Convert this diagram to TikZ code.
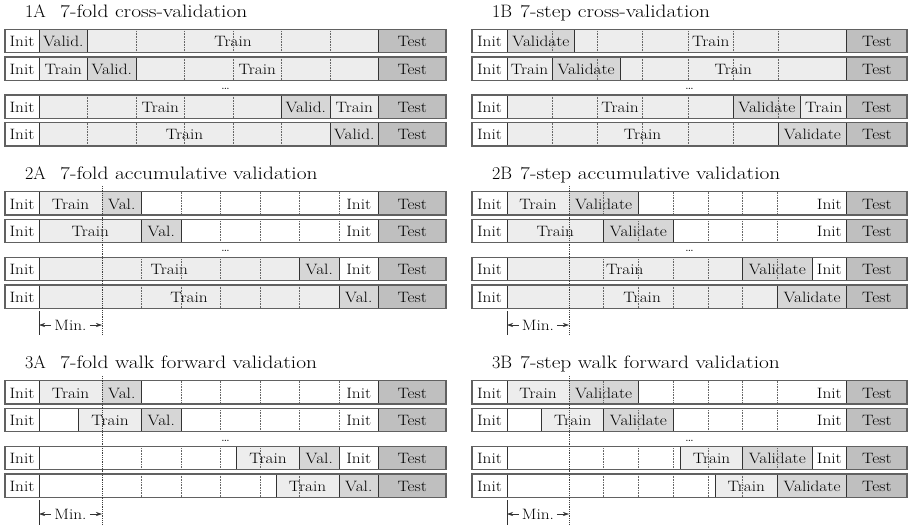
\documentclass[tikz,border=0pt]{standalone}
\usepackage{graphicx}
\usetikzlibrary{arrows.meta}
\newcounter{cellno}
\newcommand\cellfont{\fontsize{15}{18}\selectfont}
\newcommand\titlefont{\fontsize{18}{22}\selectfont}
\newcommand\wide[1]{\scalebox{1.15}[1]{#1}}
\newcommand\widetitle[1]{\scalebox{1.19}[1]{#1}}
\tikzset{
  rowframe/.style={draw=black!62, line width=1.3pt},
  cellsep/.style={draw=black!80, line width=0.7pt},
  initcell/.style={fill=white},
  blankcell/.style={fill=white},
  traincell/.style={fill=black!7},
  valcell/.style={fill=black!16},
  testcell/.style={fill=black!25},
  stepline/.style={draw=black!60, densely dotted, line width=0.6pt},
  minline/.style={draw=black!75, densely dotted, line width=0.8pt},
  celltext/.style={font=\cellfont, inner sep=0pt, anchor=base},
  titletext/.style={font=\titlefont, inner sep=0pt, anchor=base west},
  minarrow/.style={draw=black!80, line width=0.6pt, shorten <=3pt,
    -{Stealth[length=6pt,width=4pt]}},
}
% one coloured cell with its label, #1 style, #2..#3 x range, #4 row top, #5 label
\newcommand\seg[5]{%
  \stepcounter{cellno}%
  \fill[#1] (#2,#4) rectangle (#3,#4+23.4);
  \node[celltext] (cell-\arabic{cellno}) at ({(#2+#3)/2},#4+17.3) {\wide{#5}};}
\newcommand\steps[2]{\foreach \sx in {#1} {\draw[stepline] (\sx,#2) -- (\sx,#2+23.4);}}
\newcommand\seps[2]{\foreach \sx in {#1} {\draw[cellsep] (\sx,#2) -- (\sx,#2+23.4);}}
\newcommand\frm[3]{\draw[rowframe] (#1,#3) rectangle (#2,#3+23.4);}
% panel heading: #1 name, #2 x of label, #3 x of text, #4 baseline, #5 label, #6 text
\newcommand\heading[6]{%
  \node[titletext] (#1-no) at (#2,#4) {#5};
  \node[titletext] (#1-name) at (#3,#4) {\widetitle{#6}};}
\begin{document}
\begin{tikzpicture}[x=1pt,y=-1pt]
\useasboundingbox[fill=white] (0,0) rectangle (913,528);

% ---------------- 1A ----------------
\heading{t1a}{25}{60}{17.5}{1A}{7-fold cross-validation}
\def\y{29.3}
\seg{initcell}{5}{39}{\y}{Init}\seg{valcell}{39}{87.5}{\y}{Valid.}
\seg{traincell}{87.5}{378.5}{\y}{Train}\seg{testcell}{378.5}{446}{\y}{Test}
\steps{136,184.5,233,281.5,330}{\y}\seps{39,87.5,378.5}{\y}\frm{5}{446}{\y}
\def\y{57}
\seg{initcell}{5}{39}{\y}{Init}\seg{traincell}{39}{87.5}{\y}{Train}
\seg{valcell}{87.5}{136}{\y}{Valid.}\seg{traincell}{136}{378.5}{\y}{Train}
\seg{testcell}{378.5}{446}{\y}{Test}
\steps{184.5,233,281.5,330}{\y}\seps{39,87.5,136,378.5}{\y}\frm{5}{446}{\y}
\node[celltext] (d1a) at (225.5,89) {\dots};
\def\y{95}
\seg{initcell}{5}{39}{\y}{Init}\seg{traincell}{39}{281.5}{\y}{Train}
\seg{valcell}{281.5}{330}{\y}{Valid.}\seg{traincell}{330}{378.5}{\y}{Train}
\seg{testcell}{378.5}{446}{\y}{Test}
\steps{87.5,136,184.5,233}{\y}\seps{39,281.5,330,378.5}{\y}\frm{5}{446}{\y}
\def\y{122.6}
\seg{initcell}{5}{39}{\y}{Init}\seg{traincell}{39}{330}{\y}{Train}
\seg{valcell}{330}{378.5}{\y}{Valid.}\seg{testcell}{378.5}{446}{\y}{Test}
\steps{87.5,136,184.5,233,281.5}{\y}\seps{39,330,378.5}{\y}\frm{5}{446}{\y}

% ---------------- 1B ----------------
\heading{t1b}{492}{520}{17.5}{1B}{7-step cross-validation}
\def\y{29.3}
\seg{initcell}{472}{507}{\y}{Init}\seg{valcell}{507}{574.8}{\y}{Validate}
\seg{traincell}{574.8}{846.7}{\y}{Train}\seg{testcell}{846.7}{907}{\y}{Test}
\steps{552.2,597.4,642.6,687.8,733,778.2}{\y}\seps{507,574.8,846.7}{\y}\frm{472}{907}{\y}
\def\y{57}
\seg{initcell}{472}{507}{\y}{Init}\seg{traincell}{507}{552.2}{\y}{Train}
\seg{valcell}{552.2}{620}{\y}{Validate}\seg{traincell}{620}{846.7}{\y}{Train}
\seg{testcell}{846.7}{907}{\y}{Test}
\steps{597.4,642.6,687.8,733,778.2}{\y}\seps{507,552.2,620,846.7}{\y}\frm{472}{907}{\y}
\node[celltext] (d1b) at (689.5,89) {\dots};
\def\y{95}
\seg{initcell}{472}{507}{\y}{Init}\seg{traincell}{507}{733}{\y}{Train}
\seg{valcell}{733}{800.8}{\y}{Validate}\seg{traincell}{800.8}{846.7}{\y}{Train}
\seg{testcell}{846.7}{907}{\y}{Test}
\steps{552.2,597.4,642.6,687.8,778.2}{\y}\seps{507,733,800.8,846.7}{\y}\frm{472}{907}{\y}
\def\y{122.6}
\seg{initcell}{472}{507}{\y}{Init}\seg{traincell}{507}{778.2}{\y}{Train}
\seg{valcell}{778.2}{846.7}{\y}{Validate}\seg{testcell}{846.7}{907}{\y}{Test}
\steps{552.2,597.4,642.6,687.8,733}{\y}\seps{507,778.2,846.7}{\y}\frm{472}{907}{\y}

% ---------------- 2A ----------------
\heading{t2a}{25}{60}{179.5}{2A}{7-fold accumulative validation}
\def\y{191.7}
\seg{initcell}{5}{39}{\y}{Init}\seg{traincell}{39}{102}{\y}{Train}
\seg{valcell}{102}{141.5}{\y}{Val.}\seg{blankcell}{141.5}{339}{\y}{}
\seg{initcell}{339}{378.5}{\y}{Init}\seg{testcell}{378.5}{446}{\y}{Test}
\steps{181,220.5,260,299.5,339}{\y}\seps{39,141.5,378.5}{\y}\frm{5}{446}{\y}
\def\y{219.4}
\seg{initcell}{5}{39}{\y}{Init}\seg{traincell}{39}{141.5}{\y}{Train}
\seg{valcell}{141.5}{181}{\y}{Val.}\seg{blankcell}{181}{339}{\y}{}
\seg{initcell}{339}{378.5}{\y}{Init}\seg{testcell}{378.5}{446}{\y}{Test}
\steps{220.5,260,299.5,339}{\y}\seps{39,141.5,181,378.5}{\y}\frm{5}{446}{\y}
\node[celltext] (d2a) at (225.5,251.5) {\dots};
\def\y{257.4}
\seg{initcell}{5}{39}{\y}{Init}\seg{traincell}{39}{299.5}{\y}{Train}
\seg{valcell}{299.5}{339}{\y}{Val.}\seg{initcell}{339}{378.5}{\y}{Init}
\seg{testcell}{378.5}{446}{\y}{Test}
\steps{141.5,181,220.5,260}{\y}\seps{39,299.5,339,378.5}{\y}\frm{5}{446}{\y}
\def\y{285}
\seg{initcell}{5}{39}{\y}{Init}\seg{traincell}{39}{339}{\y}{Train}
\seg{valcell}{339}{378.5}{\y}{Val.}\seg{testcell}{378.5}{446}{\y}{Test}
\steps{141.5,181,220.5,260,299.5}{\y}\seps{39,339,378.5}{\y}\frm{5}{446}{\y}
\coordinate (m2a-top) at (102,186);
\coordinate (m2a-bot) at (102,335);
\draw[minline] (m2a-top) -- (m2a-bot);
\coordinate (m2a-lt) at (39,311);
\coordinate (m2a-lb) at (39,335);
\draw[cellsep] (m2a-lt) -- (m2a-lb);
\node[celltext, anchor=center] (min2a) at (70.5,325) {\wide{Min.}};
\draw[minarrow] (min2a.west) -- (min2a.west -| m2a-lt);
\draw[minarrow] (min2a.east) -- (min2a.east -| m2a-top);

% ---------------- 2B ----------------
\heading{t2b}{492}{520}{179.5}{2B}{7-step accumulative validation}
\def\y{191.7}
\seg{initcell}{472}{507}{\y}{Init}\seg{traincell}{507}{569}{\y}{Train}
\seg{valcell}{569}{638.4}{\y}{Validate}\seg{blankcell}{638.4}{812}{\y}{}
\seg{initcell}{812}{846.7}{\y}{Init}\seg{testcell}{846.7}{907}{\y}{Test}
\steps{603.7,673.1,707.9,742.6,777.3}{\y}\seps{507,638.4,846.7}{\y}\frm{472}{907}{\y}
\def\y{219.4}
\seg{initcell}{472}{507}{\y}{Init}\seg{traincell}{507}{603.7}{\y}{Train}
\seg{valcell}{603.7}{673.1}{\y}{Validate}\seg{blankcell}{673.1}{812}{\y}{}
\seg{initcell}{812}{846.7}{\y}{Init}\seg{testcell}{846.7}{907}{\y}{Test}
\steps{638.4,707.9,742.6,777.3}{\y}\seps{507,603.7,673.1,846.7}{\y}\frm{472}{907}{\y}
\node[celltext] (d2b) at (689.5,251.5) {\dots};
\def\y{257.4}
\seg{initcell}{472}{507}{\y}{Init}\seg{traincell}{507}{742.6}{\y}{Train}
\seg{valcell}{742.6}{812}{\y}{Validate}\seg{initcell}{812}{846.7}{\y}{Init}
\seg{testcell}{846.7}{907}{\y}{Test}
\steps{603.7,638.4,673.1,707.9,777.3}{\y}\seps{507,742.6,812,846.7}{\y}\frm{472}{907}{\y}
\def\y{285}
\seg{initcell}{472}{507}{\y}{Init}\seg{traincell}{507}{777.3}{\y}{Train}
\seg{valcell}{777.3}{846.7}{\y}{Validate}\seg{testcell}{846.7}{907}{\y}{Test}
\steps{603.7,638.4,673.1,707.9,742.6}{\y}\seps{507,777.3,846.7}{\y}\frm{472}{907}{\y}
\coordinate (m2b-top) at (569,186);
\coordinate (m2b-bot) at (569,335);
\draw[minline] (m2b-top) -- (m2b-bot);
\coordinate (m2b-lt) at (507,311);
\coordinate (m2b-lb) at (507,335);
\draw[cellsep] (m2b-lt) -- (m2b-lb);
\node[celltext, anchor=center] (min2b) at (538,325) {\wide{Min.}};
\draw[minarrow] (min2b.west) -- (min2b.west -| m2b-lt);
\draw[minarrow] (min2b.east) -- (min2b.east -| m2b-top);

% ---------------- 3A ----------------
\heading{t3a}{25}{60}{368.5}{3A}{7-fold walk forward validation}
\def\y{380.7}
\seg{initcell}{5}{39}{\y}{Init}\seg{traincell}{39}{102}{\y}{Train}
\seg{valcell}{102}{141.5}{\y}{Val.}\seg{blankcell}{141.5}{339}{\y}{}
\seg{initcell}{339}{378.5}{\y}{Init}\seg{testcell}{378.5}{446}{\y}{Test}
\steps{181,220.5,260,299.5,339}{\y}\seps{39,141.5,378.5}{\y}\frm{5}{446}{\y}
\def\y{408.4}
\seg{initcell}{5}{39}{\y}{Init}\seg{blankcell}{39}{78.5}{\y}{}
\seg{traincell}{78.5}{141.5}{\y}{Train}\seg{valcell}{141.5}{181}{\y}{Val.}
\seg{blankcell}{181}{339}{\y}{}
\seg{initcell}{339}{378.5}{\y}{Init}\seg{testcell}{378.5}{446}{\y}{Test}
\steps{220.5,260,299.5,339}{\y}\seps{39,78.5,141.5,181,378.5}{\y}\frm{5}{446}{\y}
\node[celltext] (d3a) at (225.5,441) {\dots};
\def\y{446.4}
\seg{initcell}{5}{39}{\y}{Init}\seg{blankcell}{39}{236.5}{\y}{}
\seg{traincell}{236.5}{299.5}{\y}{Train}\seg{valcell}{299.5}{339}{\y}{Val.}
\seg{initcell}{339}{378.5}{\y}{Init}\seg{testcell}{378.5}{446}{\y}{Test}
\steps{141.5,181,220.5,260}{\y}\seps{39,236.5,299.5,339,378.5}{\y}\frm{5}{446}{\y}
\def\y{474}
\seg{initcell}{5}{39}{\y}{Init}\seg{blankcell}{39}{276}{\y}{}
\seg{traincell}{276}{339}{\y}{Train}\seg{valcell}{339}{378.5}{\y}{Val.}
\seg{testcell}{378.5}{446}{\y}{Test}
\steps{141.5,181,220.5,260,299.5}{\y}\seps{39,276,339,378.5}{\y}\frm{5}{446}{\y}
\coordinate (m3a-top) at (102,376);
\coordinate (m3a-bot) at (102,525);
\draw[minline] (m3a-top) -- (m3a-bot);
\coordinate (m3a-lt) at (39,500);
\coordinate (m3a-lb) at (39,525);
\draw[cellsep] (m3a-lt) -- (m3a-lb);
\node[celltext, anchor=center] (min3a) at (70.5,514) {\wide{Min.}};
\draw[minarrow] (min3a.west) -- (min3a.west -| m3a-lt);
\draw[minarrow] (min3a.east) -- (min3a.east -| m3a-top);

% ---------------- 3B ----------------
\heading{t3b}{492}{520}{368.5}{3B}{7-step walk forward validation}
\def\y{380.7}
\seg{initcell}{472}{507}{\y}{Init}\seg{traincell}{507}{569}{\y}{Train}
\seg{valcell}{569}{638.4}{\y}{Validate}\seg{blankcell}{638.4}{812}{\y}{}
\seg{initcell}{812}{846.7}{\y}{Init}\seg{testcell}{846.7}{907}{\y}{Test}
\steps{603.7,673.1,707.9,742.6,777.3}{\y}\seps{507,638.4,846.7}{\y}\frm{472}{907}{\y}
\def\y{408.4}
\seg{initcell}{472}{507}{\y}{Init}\seg{blankcell}{507}{541.7}{\y}{}
\seg{traincell}{541.7}{603.7}{\y}{Train}\seg{valcell}{603.7}{673.1}{\y}{Validate}
\seg{blankcell}{673.1}{812}{\y}{}
\seg{initcell}{812}{846.7}{\y}{Init}\seg{testcell}{846.7}{907}{\y}{Test}
\steps{638.4,707.9,742.6,777.3}{\y}\seps{507,541.7,603.7,673.1,846.7}{\y}\frm{472}{907}{\y}
\node[celltext] (d3b) at (689.5,441) {\dots};
\def\y{446.4}
\seg{initcell}{472}{507}{\y}{Init}\seg{blankcell}{507}{680.6}{\y}{}
\seg{traincell}{680.6}{742.6}{\y}{Train}\seg{valcell}{742.6}{812}{\y}{Validate}
\seg{initcell}{812}{846.7}{\y}{Init}\seg{testcell}{846.7}{907}{\y}{Test}
\steps{603.7,638.4,673.1,707.9,777.3}{\y}\seps{507,680.6,742.6,812,846.7}{\y}\frm{472}{907}{\y}
\def\y{474}
\seg{initcell}{472}{507}{\y}{Init}\seg{blankcell}{507}{715.3}{\y}{}
\seg{traincell}{715.3}{777.3}{\y}{Train}\seg{valcell}{777.3}{846.7}{\y}{Validate}
\seg{testcell}{846.7}{907}{\y}{Test}
\steps{603.7,638.4,673.1,707.9,742.6}{\y}\seps{507,715.3,777.3,846.7}{\y}\frm{472}{907}{\y}
\coordinate (m3b-top) at (569,376);
\coordinate (m3b-bot) at (569,525);
\draw[minline] (m3b-top) -- (m3b-bot);
\coordinate (m3b-lt) at (507,500);
\coordinate (m3b-lb) at (507,525);
\draw[cellsep] (m3b-lt) -- (m3b-lb);
\node[celltext, anchor=center] (min3b) at (538,514) {\wide{Min.}};
\draw[minarrow] (min3b.west) -- (min3b.west -| m3b-lt);
\draw[minarrow] (min3b.east) -- (min3b.east -| m3b-top);
\end{tikzpicture}
\end{document}
